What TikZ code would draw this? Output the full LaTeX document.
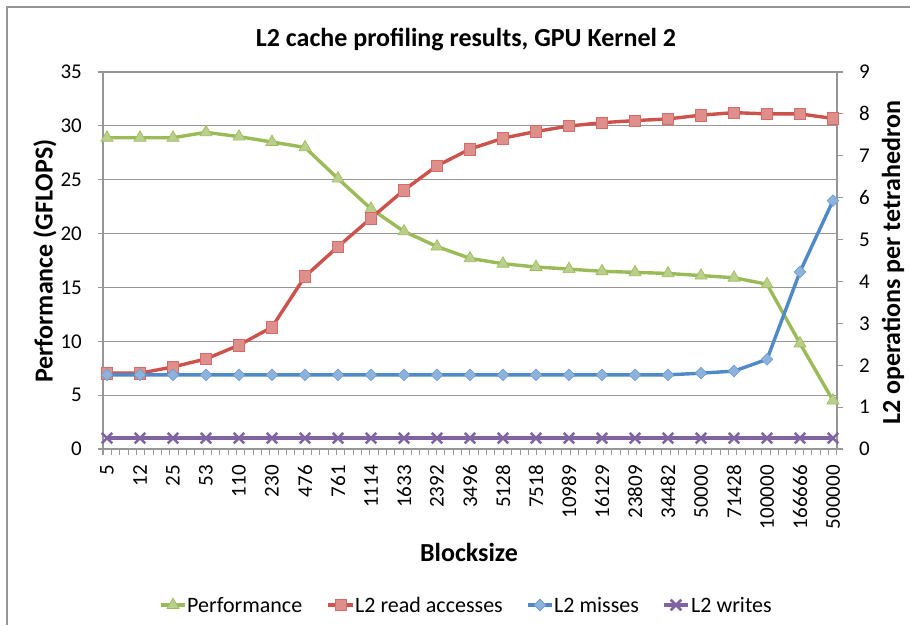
\documentclass[tikz,border=0pt]{standalone}
\usepackage{fontspec}
\setmainfont{Carlito}
\usetikzlibrary{shapes.geometric,shapes.misc}
\definecolor{perfgreen}{RGB}{155,187,89}
\definecolor{readred}{RGB}{205,82,76}
\definecolor{missblue}{RGB}{79,137,200}
\definecolor{writepurple}{RGB}{128,100,162}
\definecolor{gridgray}{RGB}{150,150,150}

\tikzset{
  series/.style={line width=3.4pt,line join=round},
  perfmark/.style={regular polygon,regular polygon sides=3,inner sep=0pt,minimum size=14pt,fill=perfgreen!70!white,draw=perfgreen,line width=0.6pt},
  readmark/.style={rectangle,inner sep=0pt,minimum size=11.5pt,fill=readred!65!white,draw=readred!85!white,line width=0.6pt},
  missmark/.style={diamond,inner sep=0pt,minimum size=12pt,fill=missblue!65!white,draw=missblue!85!white,line width=0.6pt},
  writemark/.style={cross out,inner sep=0pt,minimum size=8pt,draw=writepurple,line width=2.6pt},
  ticklabel/.style={font=\fontsize{21}{21}\selectfont,inner sep=0pt},
  legendlabel/.style={font=\fontsize{22}{22}\selectfont,inner sep=0pt},
  axistitle/.style={font=\fontsize{26}{26}\selectfont\bfseries,inner sep=0pt},
}

\begin{document}
\begin{tikzpicture}[x=1pt,y=-1pt]
    \useasboundingbox (0,0) rectangle (910,625);
    % chart frame
    \draw[gridgray,line width=1.3pt] (7,625) -- (7,7) -- (910,7);

    % title
    \node[axistitle] (title) at (466,40) {L2 cache profiling results, GPU Kernel 2};

    % grid and left axis
    \foreach \v in {0,5,...,35} {
        \draw[gridgray,line width=1.2pt] (98,{449-\v*10.771}) -- (837,{449-\v*10.771});
        \node[ticklabel,anchor=east] (yl\v) at (82,{449-\v*10.771}) {\v};
    }
    \draw[gridgray,line width=1.2pt] (103,72) -- (103,455);
    % right axis
    \draw[gridgray,line width=1.2pt] (837,72) -- (837,449);
    \foreach \v in {0,...,9} {
        \draw[gridgray,line width=1.2pt] (837,{449-\v*41.89}) -- (843,{449-\v*41.89});
        \node[ticklabel,anchor=west] (yr\v) at (859,{449-\v*41.89}) {\v};
    }
    % category ticks
    \foreach \k in {0,...,88}
        \draw[gridgray,line width=1pt] ({103+\k*8.34},449) -- ({103+\k*8.34},455);
    \foreach \lab [count=\i] in {5,12,25,53,110,230,476,761,1114,1633,2392,3496,5128,7518,10989,16129,23809,34482,50000,71428,100000,166666,500000}
        \node[ticklabel,rotate=90,anchor=east] (xl\i) at ({107+33*(\i-1)},465) {\lab};

    % axis titles
    \node[axistitle,rotate=90] (ytitle) at (45,261) {Performance (GFLOPS)};
    \node[axistitle,rotate=90] (y2title) at (893,263) {L2 operations per tetrahedron};
    \node[axistitle] (xtitle) at (469,552) {Blocksize};

    % data points
    \foreach \v [count=\i] in {28.9,28.9,28.9,29.4,29.0,28.5,28.0,25.1,22.3,20.2,18.8,17.7,17.2,16.9,16.7,16.5,16.4,16.3,16.1,15.9,15.3,9.8,4.5}
        \coordinate (perf\i) at ({107+33*(\i-1)},{449-\v*10.771});
    \foreach \v [count=\i] in {1.81,1.81,1.96,2.15,2.48,2.91,4.12,4.83,5.51,6.18,6.76,7.16,7.42,7.58,7.71,7.79,7.84,7.88,7.97,8.03,8.00,8.00,7.89}
        \coordinate (read\i) at ({107+33*(\i-1)},{449-\v*41.89});
    \foreach \v [count=\i] in {1.77,1.77,1.77,1.77,1.77,1.77,1.77,1.77,1.77,1.77,1.77,1.77,1.77,1.77,1.77,1.77,1.77,1.77,1.81,1.86,2.14,4.23,5.93}
        \coordinate (miss\i) at ({107+33*(\i-1)},{449-\v*41.89});
    \foreach \i in {1,...,23}
        \coordinate (write\i) at ({107+33*(\i-1)},{449-0.26*41.89});

    % series
    \draw[series,perfgreen] (perf1) \foreach \i in {2,...,23} {-- (perf\i)};
    \foreach \i in {1,...,23} \node[perfmark] (pm\i) at (perf\i) {};
    \draw[series,readred] (read1) \foreach \i in {2,...,23} {-- (read\i)};
    \foreach \i in {1,...,23} \node[readmark] (rm\i) at (read\i) {};
    \draw[series,missblue] (miss1) \foreach \i in {2,...,23} {-- (miss\i)};
    \foreach \i in {1,...,23} \node[missmark] (mm\i) at (miss\i) {};
    \draw[series,writepurple] (write1) \foreach \i in {2,...,23} {-- (write\i)};
    \foreach \i in {1,...,23} \node[writemark] (wm\i) at (write\i) {};

    % legend
    \coordinate (lg1a) at (161,605); \coordinate (lg1b) at (185,605);
    \draw[series,perfgreen] (lg1a) -- (lg1b);
    \node[perfmark] (lgm1) at (173,605) {};
    \node[legendlabel,anchor=west] (lgt1) at (187,605) {Performance};
    \coordinate (lg2a) at (328,605); \coordinate (lg2b) at (353,605);
    \draw[series,readred] (lg2a) -- (lg2b);
    \node[readmark] (lgm2) at (341,605) {};
    \node[legendlabel,anchor=west] (lgt2) at (355,605) {L2 read accesses};
    \coordinate (lg3a) at (528,605); \coordinate (lg3b) at (552,605);
    \draw[series,missblue] (lg3a) -- (lg3b);
    \node[missmark] (lgm3) at (540,605) {};
    \node[legendlabel,anchor=west] (lgt3) at (554,605) {L2 misses};
    \coordinate (lg4a) at (664,605); \coordinate (lg4b) at (688,605);
    \draw[series,writepurple] (lg4a) -- (lg4b);
    \node[writemark] (lgm4) at (676,605) {};
    \node[legendlabel,anchor=west] (lgt4) at (691,605) {L2 writes};
\end{tikzpicture}
\end{document}
